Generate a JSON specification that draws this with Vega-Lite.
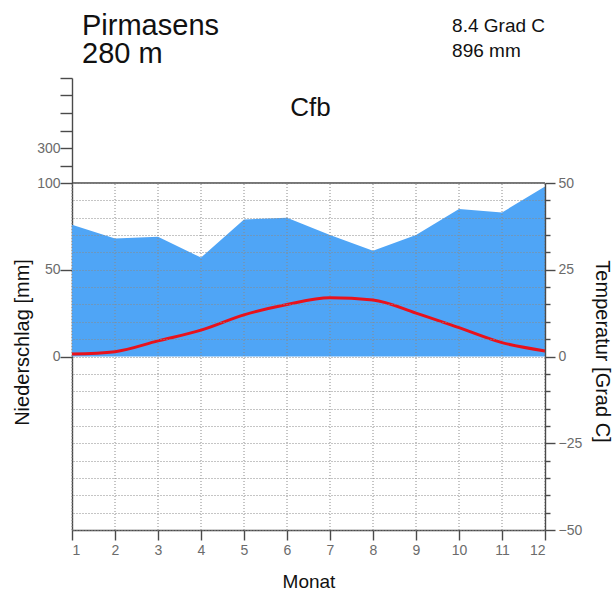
{
  "$schema": "https://vega.github.io/schema/vega-lite/v6.json",
  "autosize": "none",
  "width": 473,
  "height": 452,
  "padding": {"left": 72, "top": 78, "right": 68, "bottom": 62},
  "background": "white",
  "config": {
    "view": {"stroke": null},
    "font": "Liberation Sans",
    "axis": {"labelFont": "Liberation Sans", "titleFont": "Liberation Sans", "titleFontWeight": "normal", "labelColor": "#6b6b6b", "titleColor": "#111111", "domainColor": "#4a4a4a", "tickColor": "#4a4a4a", "domainWidth": 1.4, "tickWidth": 1.4}
  },
  "data": {
    "values": [
      {"monat": 1, "niederschlag": 76, "temperatur": 0.7},
      {"monat": 2, "niederschlag": 68, "temperatur": 1.4},
      {"monat": 3, "niederschlag": 69, "temperatur": 4.5},
      {"monat": 4, "niederschlag": 57, "temperatur": 7.6},
      {"monat": 5, "niederschlag": 79, "temperatur": 12.0},
      {"monat": 6, "niederschlag": 80, "temperatur": 15.0},
      {"monat": 7, "niederschlag": 70, "temperatur": 16.9},
      {"monat": 8, "niederschlag": 61, "temperatur": 16.3},
      {"monat": 9, "niederschlag": 70, "temperatur": 12.5},
      {"monat": 10, "niederschlag": 85, "temperatur": 8.3},
      {"monat": 11, "niederschlag": 83, "temperatur": 4.0},
      {"monat": 12, "niederschlag": 98, "temperatur": 1.6}
    ]
  },
  "layer": [
    {
      "layer": [
        {
          "mark": {"type": "area", "color": "#4fa5f6", "interpolate": "linear"},
          "encoding": {
            "x": {
              "field": "monat", "type": "quantitative",
              "scale": {"domain": [1, 12], "nice": false, "zero": false},
              "axis": {
                "values": [1, 2, 3, 4, 5, 6, 7, 8, 9, 10, 11, 12],
                "grid": false, "tickSize": 10, "labelPadding": 3, "labelFontSize": 14,
                "title": "Monat", "titleFontSize": 19, "titleBaseline": "alphabetic", "titleY": 57
              }
            },
            "y": {
              "field": "niederschlag", "type": "quantitative",
              "scale": {"domain": [-100, 100, 700], "range": [452, 105, 0], "nice": false, "zero": false},
              "axis": {
                "orient": "left",
                "values": [0, 50, 100, 200, 300, 400, 500, 600, 700],
                "labelExpr": "indexof([0, 50, 100, 300], datum.value) >= 0 ? datum.label : ''",
                "grid": false, "tickSize": 12, "labelPadding": 0, "labelFontSize": 14,
                "title": "Niederschlag  [mm]", "titleFontSize": 20, "titleAngle": 270,
                "titleBaseline": "middle", "titleAlign": "center", "titleX": -50, "titleY": 264
              }
            },
            "y2": {"datum": 0}
          }
        },
        {
          "mark": {"type": "rule", "color": "#8a8a8a", "strokeDash": [1, 2], "strokeWidth": 1},
          "encoding": {
            "x": {"field": "monat", "type": "quantitative"},
            "y": {"datum": -100, "type": "quantitative"},
            "y2": {"datum": 100}
          }
        },
        {
          "data": {"values": [{}]},
          "mark": {"type": "rule", "color": "#4a4a4a", "strokeWidth": 1.4},
          "encoding": {"y": {"datum": 100, "type": "quantitative"}}
        },
        {
          "data": {"values": [{}]},
          "layer": [
            {
              "mark": {"type": "text", "text": ["Pirmasens", "280  m"], "lineHeight": 28, "align": "left", "baseline": "alphabetic", "fontSize": 29, "color": "#111111"},
              "encoding": {"x": {"datum": 1.233, "type": "quantitative"}, "y": {"datum": 946, "type": "quantitative"}}
            },
            {
              "mark": {"type": "text", "text": ["8.4  Grad  C", "896  mm"], "lineHeight": 25, "align": "left", "baseline": "alphabetic", "fontSize": 19, "color": "#111111"},
              "encoding": {"x": {"datum": 9.84, "type": "quantitative"}, "y": {"datum": 963, "type": "quantitative"}}
            },
            {
              "mark": {"type": "text", "text": "Cfb", "align": "center", "baseline": "alphabetic", "fontSize": 26, "color": "#111111"},
              "encoding": {"x": {"datum": 6.547, "type": "quantitative"}, "y": {"datum": 483, "type": "quantitative"}}
            }
          ]
        }
      ]
    },
    {
      "mark": {"type": "line", "color": "#e8121c", "strokeWidth": 3, "interpolate": "monotone"},
      "encoding": {
        "x": {"field": "monat", "type": "quantitative"},
        "y": {
          "field": "temperatur", "type": "quantitative",
          "scale": {"domain": [-50, 50], "range": [452, 105], "nice": false, "zero": false},
          "axis": {
            "orient": "right",
            "values": [-50, -45, -40, -35, -30, -25, -20, -15, -10, -5, 0, 5, 10, 15, 20, 25, 30, 35, 40, 45, 50],
            "labelExpr": "datum.value % 25 == 0 ? datum.label : ''",
            "tickSize": {"condition": {"test": "datum.value % 25 == 0", "value": 10}, "value": 5},
            "labelPadding": 3, "labelFontSize": 14,
            "grid": true, "gridColor": "#8a8a8a", "gridDash": [1, 2], "gridWidth": 1, "zindex": 1,
            "title": "Temperatur  [Grad  C]", "titleFontSize": 20, "titleAngle": 90,
            "titleBaseline": "middle", "titleAlign": "center", "titleX": 56, "titleY": 273
          }
        }
      }
    }
  ],
  "resolve": {"scale": {"y": "independent"}}
}
